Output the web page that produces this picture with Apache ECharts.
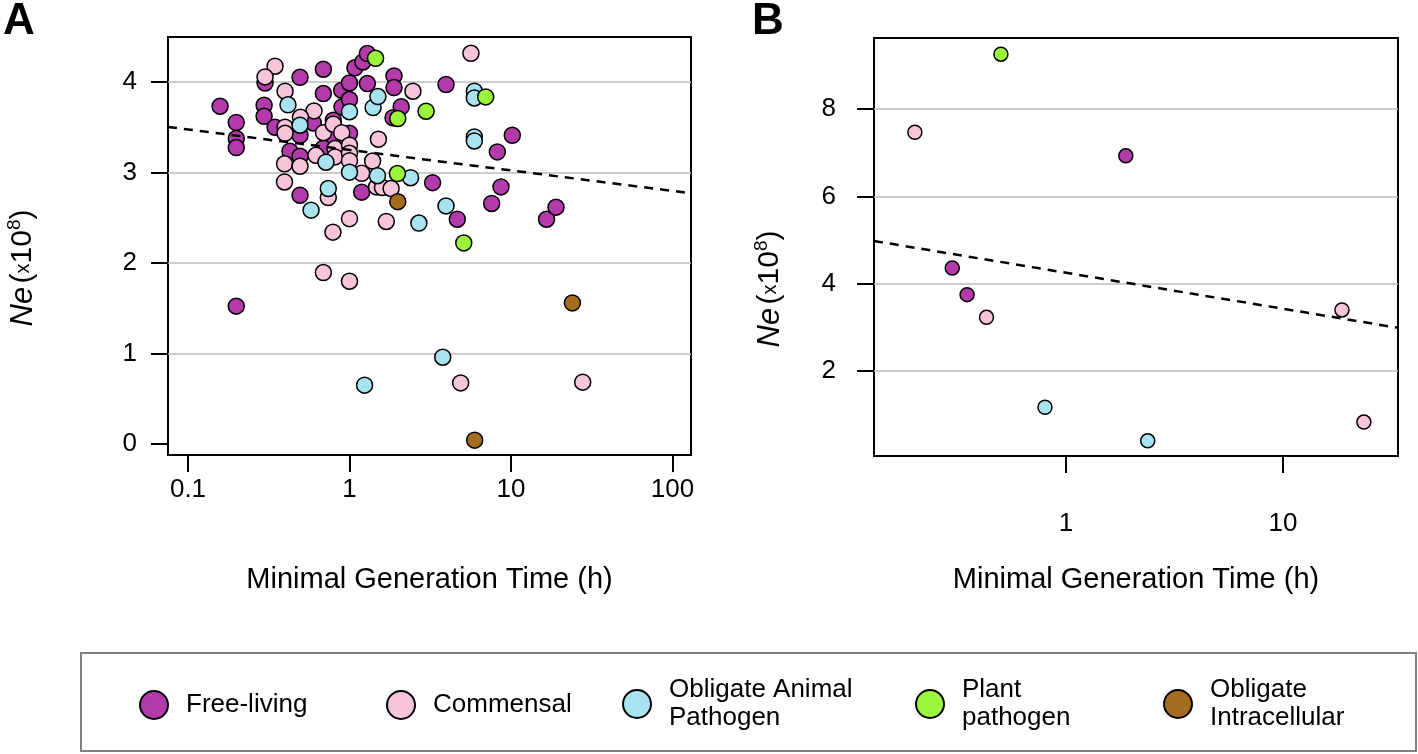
<!DOCTYPE html>
<html><head><meta charset="utf-8">
<script src="https://cdn.jsdelivr.net/npm/echarts@6/dist/echarts.min.js"></script>
<style>html,body{margin:0;padding:0;background:#fff}#c{width:1418px;height:754px}</style>
</head><body><div id="c"></div>
<script>
const categories = ['Free-living','Commensal','Obligate Animal Pathogen','Plant pathogen','Obligate Intracellular'];
const legendLabels = ['Free-living','Commensal','Obligate Animal\nPathogen','Plant\npathogen','Obligate\nIntracellular'];
const colors = ['#B23AAB','#F8C4DB','#A8E3F2','#9BF53A','#A46C1F'];

// Panel A : minimal generation time (h) vs Ne (x10^8)
const freeA_x = [0.158,0.199,0.199,0.199,0.199,0.300,0.296,0.296,0.346,0.494,0.689,0.597,0.494,0.428,0.494,0.494,0.689,0.689,0.794,0.802,0.895,0.899,1.0,1.0,1.0,1.08,1.21,1.29,1.29,1.19,1.886,1.886,2.09,1.86,3.27,3.96,4.65,7.59,8.23,8.67,10.19,16.6,19.0];
const freeA_y = [3.735,3.555,3.378,3.278,1.525,3.992,3.746,3.624,3.503,4.055,4.144,3.550,3.414,3.238,3.182,2.751,3.875,3.271,3.580,3.396,3.912,3.727,3.992,3.809,3.436,4.160,4.224,4.317,3.986,2.785,4.070,3.941,3.729,3.608,2.890,3.975,2.486,2.660,3.230,2.843,3.414,2.486,2.619];
const commA_x = [0.346,0.300,0.399,0.603,0.497,0.399,0.399,0.396,0.494,0.396,0.620,0.690,0.794,0.813,0.813,0.895,1.0,1.0,1.0,0.739,0.790,1.0,0.689,1.0,2.47,5.65,1.51,1.39,1.19,1.47,1.60,1.81,1.69,4.88,27.8];
const commA_y = [4.177,4.059,3.901,3.683,3.613,3.503,3.436,3.099,3.072,2.898,3.193,3.442,3.536,3.267,3.175,3.442,3.304,3.215,3.133,2.726,2.343,2.492,1.897,1.801,3.901,4.320,3.370,3.129,2.994,2.843,2.836,2.825,2.461,0.677,0.685];
const oapA_x = [0.416,0.494,0.715,0.739,0.578,1.0,1.0,1.40,1.50,1.49,2.39,2.69,3.96,5.93,5.93,5.93,5.93,3.78,1.24];
const oapA_y = [3.751,3.525,3.116,2.825,2.586,3.674,3.006,3.720,3.842,2.967,2.945,2.444,2.633,3.901,3.826,3.396,3.351,0.961,0.652];
const plantA_x = [1.45,2.98,1.99,1.98,5.10,6.97];
const plantA_y = [4.265,3.680,3.599,2.991,2.224,3.838];
const intraA_x = [1.99,24.0,5.96];
const intraA_y = [2.680,1.561,0.044];
const trendA_x = [0.0752,130.2];
const trendA_y = [3.506,2.773];

// Panel B
const freeB_x = [1.886,0.299,0.350];
const freeB_y = [6.93,4.36,3.75];
const commB_x = [0.201,0.430,18.7,23.6];
const commB_y = [7.47,3.23,3.40,0.83];
const oapB_x = [0.80,2.38];
const oapB_y = [1.17,0.40];
const plantB_x = [0.501];
const plantB_y = [9.26];
const intraB_x = [];
const intraB_y = [];
const trendB_x = [0.1303,33.9];
const trendB_y = [4.98,2.99];

// Axes ticks
const xTicksA = [0.1,1,10,100];
const yTicksA = [0,1,2,3,4];
const yGridA = [1,2,3,4];
const xTicksB = [1,10];
const yTicksB = [2,4,6,8];
const yGridB = [2,4,6,8];

const FONT = 'Liberation Sans, Arial, sans-serif';
const zip = (xs, ys) => xs.map((x, i) => [x, ys[i]]);
const dataA = [zip(freeA_x,freeA_y), zip(commA_x,commA_y), zip(oapA_x,oapA_y), zip(plantA_x,plantA_y), zip(intraA_x,intraA_y)];
const dataB = [zip(freeB_x,freeB_y), zip(commB_x,commB_y), zip(oapB_x,oapB_y), zip(plantB_x,plantB_y), zip(intraB_x,intraB_y)];

const fmtNum = v => String(+(+v).toPrecision(6));

function xAxis(grid, min, max, ticks, margin, gap) {
  return {
    type: 'log', logBase: 10, gridIndex: grid, min, max,
    axisLine: {show: true, onZero: false, lineStyle: {color: '#000', width: 2}},
    axisTick: {show: true, length: 17, lineStyle: {color: '#000', width: 2}, customValues: ticks},
    axisLabel: {customValues: ticks, formatter: fmtNum, fontSize: 26, color: '#000', fontFamily: FONT, margin},
    splitLine: {show: false}, minorTick: {show: false},
    name: 'Minimal Generation Time (h)', nameLocation: 'middle', nameGap: gap,
    nameTextStyle: {fontSize: 29, color: '#000', fontFamily: FONT}
  };
}
function yAxis(grid, min, max, ticks, margin) {
  return {
    type: 'value', gridIndex: grid, min, max,
    axisLine: {show: true, onZero: false, lineStyle: {color: '#000', width: 2}},
    axisTick: {show: true, length: 17, lineStyle: {color: '#000', width: 2}, customValues: ticks},
    axisLabel: {customValues: ticks, formatter: fmtNum, fontSize: 26, color: '#000', fontFamily: FONT, margin},
    splitLine: {show: false}
  };
}

const series = [];
function gridSeries(idx, vals) {
  series.push({
    type: 'line', xAxisIndex: idx, yAxisIndex: idx, data: [], silent: true, z: 1,
    markLine: {silent: true, z: 1, symbol: 'none', label: {show: false},
      lineStyle: {color: '#BDBDBD', type: 'solid', width: 1.5},
      emphasis: {disabled: true},
      data: vals.map(v => ({yAxis: v}))}
  });
}
gridSeries(0, yGridA);
gridSeries(1, yGridB);
categories.forEach((name, k) => {
  const style = {color: colors[k], borderColor: '#000', borderWidth: 1.5, opacity: 1};
  series.push({type: 'scatter', name, xAxisIndex: 0, yAxisIndex: 0, data: dataA[k], symbol: 'circle', symbolSize: 16, itemStyle: style, z: 3});
  series.push({type: 'scatter', name, xAxisIndex: 1, yAxisIndex: 1, data: dataB[k], symbol: 'circle', symbolSize: 14, itemStyle: style, z: 3});
});
series.push({type: 'line', xAxisIndex: 0, yAxisIndex: 0, data: zip(trendA_x, trendA_y), symbol: 'none', silent: true, z: 4,
  lineStyle: {color: '#000', width: 2.5, type: [9, 7]}});
series.push({type: 'line', xAxisIndex: 1, yAxisIndex: 1, data: zip(trendB_x, trendB_y), symbol: 'none', silent: true, z: 4,
  lineStyle: {color: '#000', width: 2.5, type: [9, 7]}});

const legendCenters = [153, 400, 636, 929, 1177];
const legends = categories.map((name, k) => ({
  data: [name], left: legendCenters[k] - 14,
  top: legendLabels[k].includes('\n') ? 676 : 690,
  orient: 'horizontal', padding: 0, itemWidth: 28, itemHeight: 28, icon: 'circle',
  selectedMode: false,
  formatter: n => legendLabels[categories.indexOf(n)],
  textStyle: {fontSize: 26, color: '#000', fontFamily: FONT, lineHeight: 28, padding: [0, 0, 0, 13]}
}));

const yName = {
  i: {fontSize: 31, fontStyle: 'italic', fontFamily: FONT, color: '#000', lineHeight: 36},
  n: {fontSize: 30, fontFamily: FONT, color: '#000', lineHeight: 36},
  s: {fontSize: 20, fontFamily: FONT, color: '#000', lineHeight: 36},
  sup: {fontSize: 19, fontFamily: FONT, color: '#000', lineHeight: 19, verticalAlign: 'top'}
};
const yNameText = '{i|Ne} {n|(}{s|x}{n|10}{sup|8}{n|)}';

const option = {
  animation: false,
  backgroundColor: '#fff',
  grid: [
    {left: 168, top: 37, width: 523, height: 418, show: true, borderColor: '#000', borderWidth: 2, backgroundColor: 'transparent', containLabel: false, outerBoundsMode: 'none'},
    {left: 874, top: 38, width: 524, height: 418, show: true, borderColor: '#000', borderWidth: 2, backgroundColor: 'transparent', containLabel: false, outerBoundsMode: 'none'}
  ],
  xAxis: [xAxis(0, 0.0752, 130.2, xTicksA, 22, 110), xAxis(1, 0.1303, 33.9, xTicksB, 55, 109)],
  yAxis: [yAxis(0, -0.12, 4.5, yTicksA, 31), yAxis(1, 0.053, 9.63, yTicksB, 38)],
  legend: legends,
  series,
  graphic: [
    {type: 'text', left: 3, top: 0, style: {text: 'A', fontSize: 44, fontWeight: 'bold', fontFamily: FONT, fill: '#000'}},
    {type: 'text', left: 752, top: 0, style: {text: 'B', fontSize: 44, fontWeight: 'bold', fontFamily: FONT, fill: '#000'}},
    {type: 'text', x: 23, y: 268, rotation: Math.PI / 2, style: {text: yNameText, rich: yName, align: 'center', verticalAlign: 'middle', fill: '#000'}},
    {type: 'text', x: 770, y: 289, rotation: Math.PI / 2, style: {text: yNameText, rich: yName, align: 'center', verticalAlign: 'middle', fill: '#000'}},
    {type: 'rect', shape: {x: 81, y: 653, width: 1335, height: 98}, style: {fill: 'none', stroke: '#808080', lineWidth: 2}, silent: true}
  ]
};
const chart = echarts.init(document.getElementById('c'), null, {renderer: 'canvas'});
chart.setOption(option);
</script></body></html>
